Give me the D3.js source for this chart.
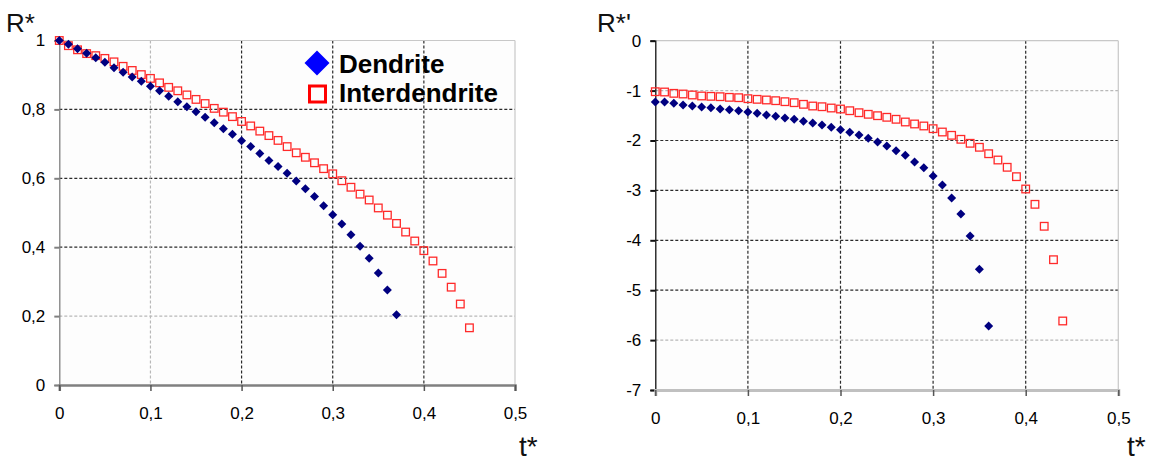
<!DOCTYPE html>
<html><head><meta charset="utf-8">
<script src="https://cdn.jsdelivr.net/npm/d3@7"></script>
<style>body{margin:0;background:#fff}svg{display:block;font-family:"Liberation Sans",Arial,sans-serif}</style>
</head><body><svg id="c" width="1153" height="462"></svg>
<script>
// t* values (step 0.01)
const tDend = d3.range(38).map(i => +(i * 0.01).toFixed(2));   // 0 .. 0.37
const tInter = d3.range(46).map(i => +(i * 0.01).toFixed(2));  // 0 .. 0.45
const tDendP = d3.range(37).map(i => +(i * 0.01).toFixed(2));  // 0 .. 0.36
const tInterP = d3.range(45).map(i => +(i * 0.01).toFixed(2)); // 0 .. 0.44

// Left chart: R*
const dendriteR = [1.0,0.989,0.976,0.963,0.950,0.937,0.921,0.908,0.894,0.882,0.867,0.854,0.838,0.822,0.808,0.793,0.777,0.761,0.744,0.728,0.709,0.692,0.672,0.652,0.634,0.615,0.592,0.570,0.547,0.520,0.494,0.467,0.436,0.403,0.368,0.325,0.276,0.204];
const interR = [1.0,0.985,0.973,0.962,0.956,0.948,0.938,0.925,0.913,0.901,0.890,0.877,0.864,0.854,0.842,0.829,0.817,0.803,0.792,0.779,0.765,0.752,0.737,0.724,0.710,0.692,0.674,0.661,0.645,0.628,0.613,0.593,0.574,0.554,0.537,0.514,0.493,0.469,0.444,0.418,0.390,0.360,0.324,0.284,0.235,0.166];

// Right chart: R*'
const dendriteRp = [-1.228,-1.228,-1.255,-1.289,-1.309,-1.329,-1.343,-1.369,-1.383,-1.403,-1.429,-1.455,-1.489,-1.515,-1.549,-1.575,-1.615,-1.649,-1.689,-1.735,-1.784,-1.836,-1.890,-1.956,-2.030,-2.110,-2.204,-2.297,-2.431,-2.545,-2.711,-2.892,-3.152,-3.473,-3.914,-4.581,-5.717];
const interRp = [-1.022,-1.028,-1.055,-1.068,-1.088,-1.108,-1.115,-1.122,-1.135,-1.142,-1.162,-1.175,-1.188,-1.202,-1.222,-1.242,-1.275,-1.309,-1.323,-1.349,-1.369,-1.403,-1.443,-1.475,-1.503,-1.535,-1.575,-1.629,-1.669,-1.709,-1.763,-1.830,-1.896,-1.976,-2.056,-2.136,-2.265,-2.391,-2.537,-2.725,-2.972,-3.279,-3.719,-4.389,-5.617];

const xTicks = [0,0.1,0.2,0.3,0.4,0.5];
const xTickLabels = ["0","0,1","0,2","0,3","0,4","0,5"];
const yTicksL = [0,0.2,0.4,0.6,0.8,1];
const yTickLabelsL = ["0","0,2","0,4","0,6","0,8","1"];
const yTicksR = [-7,-6,-5,-4,-3,-2,-1,0];
const yTickLabelsR = ["-7","-6","-5","-4","-3","-2","-1","0"];
const legendLabels = ["Dendrite","Interdendrite"];

const svg = d3.select("#c");

function chart(cfg){
  const g = svg.append("g");
  const x = d3.scaleLinear().domain([0,0.5]).range(cfg.xr);
  const y = d3.scaleLinear().domain(cfg.yd).range(cfg.yr);
  const [x0,x1] = cfg.xr, [yb,yt] = cfg.yr;
  g.append("rect").attr("x",x0).attr("y",yt).attr("width",x1-x0).attr("height",yb-yt).attr("fill","#fdfdfd");
  // grid
  cfg.yTicks.forEach(v => {
    if (v === cfg.yd[0] || v === cfg.yd[1]) return;
    g.append("line").attr("x1",x0).attr("x2",x1).attr("y1",y(v)).attr("y2",y(v))
      .attr("stroke", cfg.lightY.includes(v) ? "#b8b8b8" : "#2a2a2a").attr("stroke-width",1.2).attr("stroke-dasharray","3,2");
  });
  xTicks.forEach(v => {
    if (v === 0 || v === 0.5) return;
    g.append("line").attr("y1",yt).attr("y2",yb).attr("x1",x(v)).attr("x2",x(v))
      .attr("stroke", cfg.lightX.includes(v) ? "#b8b8b8" : "#2a2a2a").attr("stroke-width",1.2).attr("stroke-dasharray","3,2");
  });
  // border top/right
  g.append("line").attr("x1",x0).attr("x2",x1).attr("y1",yt).attr("y2",yt).attr("stroke","#c8c8c8").attr("stroke-width",1.2);
  g.append("line").attr("x1",x1).attr("x2",x1).attr("y1",yt).attr("y2",yb).attr("stroke","#c8c8c8").attr("stroke-width",1.2);
  // axes
  const ya = g.append("g").attr("transform",`translate(${x0},0)`)
    .call(d3.axisLeft(y).tickValues(cfg.yTicks).tickFormat((d,i)=>cfg.yLabels[i]).tickSize(5).tickPadding(9));
  ya.select(".domain").attr("stroke",cfg.yAxisColor).attr("stroke-width",1.3);
  ya.selectAll(".tick line").attr("stroke",cfg.yAxisColor).attr("stroke-width",2);
  ya.selectAll("text").attr("font-size",17).attr("fill","#000").attr("font-family","Liberation Sans, Arial");
  const xa = g.append("g").attr("transform",`translate(0,${yb})`)
    .call(d3.axisBottom(x).tickValues(xTicks).tickFormat((d,i)=>xTickLabels[i]).tickSize(6).tickPadding(16));
  xa.select(".domain").attr("stroke",cfg.xAxisColor).attr("stroke-width",cfg.xAxisW);
  xa.selectAll(".tick line").attr("stroke","#555").attr("stroke-width",1.5);
  xa.selectAll("text").attr("font-size",17).attr("fill","#000").attr("font-family","Liberation Sans, Arial");
  // axis titles
  g.append("text").attr("x",cfg.yTitleX).attr("y",32).attr("font-size",26).attr("fill","#111").text(cfg.yTitle);
  g.append("text").attr("x",cfg.xTitleX).attr("y",456).attr("font-size",28).attr("fill","#111").text("t*");
  // data
  const dia = "M0,-4.5L4.5,0L0,4.5L-4.5,0Z";
  g.append("g").selectAll("rect").data(cfg.inter).join("rect")
    .attr("x",d=>x(d[0])-3.8).attr("y",d=>y(d[1])-3.8).attr("width",7.6).attr("height",7.6)
    .attr("fill","none").attr("stroke","#ff2a2a").attr("stroke-width",1.3);
  g.append("g").selectAll("path").data(cfg.dend).join("path")
    .attr("transform",d=>`translate(${x(d[0])},${y(d[1])})`).attr("d",dia).attr("fill","#000080");
}

chart({xr:[59.3,515], yd:[0,1], yr:[385,40.5], yTicks:yTicksL, yLabels:yTickLabelsL,
  lightY:[0.2], lightX:[0.1], yAxisColor:"#808080", xAxisColor:"#808080", xAxisW:2.5,
  yTitle:"R*", yTitleX:6, xTitleX:519,
  dend:tDend.map((t,i)=>[t,dendriteR[i]]), inter:tInter.map((t,i)=>[t,interR[i]])});

chart({xr:[655.3,1118.3], yd:[-7,0], yr:[390,40.7], yTicks:yTicksR, yLabels:yTickLabelsR,
  lightY:[-1,-6], lightX:[], yAxisColor:"#111", xAxisColor:"#c0c0c0", xAxisW:3,
  yTitle:"R*'", yTitleX:597, xTitleX:1127,
  dend:tDendP.map((t,i)=>[t,dendriteRp[i]]), inter:tInterP.map((t,i)=>[t,interRp[i]])});

// legend (left chart)
const lg = svg.append("g");
lg.append("path").attr("transform","translate(317,63)").attr("d","M0,-12.5L12.5,0L0,12.5L-12.5,0Z").attr("fill","#0000ff");
lg.append("rect").attr("x",309.5).attr("y",86).attr("width",16).attr("height",16).attr("fill","none").attr("stroke","#ff0000").attr("stroke-width",3);
lg.selectAll("text").data(legendLabels).join("text")
  .attr("x",339).attr("y",(d,i)=>73+i*29).attr("font-size",26).attr("font-weight","bold").attr("fill","#000").text(d=>d);
</script></body></html>
